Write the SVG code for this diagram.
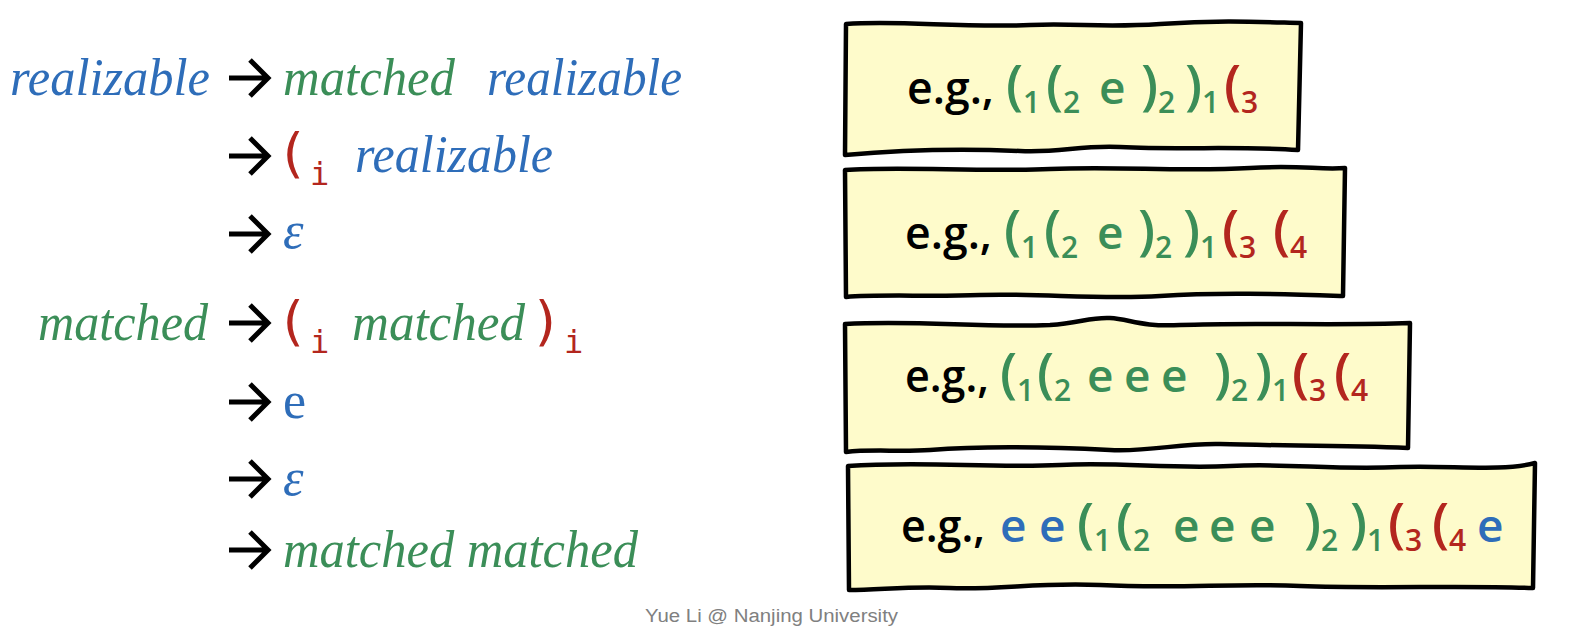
<svg xmlns="http://www.w3.org/2000/svg" xmlns:xlink="http://www.w3.org/1999/xlink" width="1586" height="644" viewBox="0 0 1586 644">
<style>
.ser{font-family:"Liberation Serif","Times New Roman",serif;font-style:italic;font-size:52px}
.up{font-family:"Liberation Serif","Times New Roman",serif;font-size:52px}
.mono{font-family:"DejaVu Sans Mono","Liberation Mono",monospace}
.par{font-size:54px}
.sub{font-size:32px}
.blue{fill:#2E6DB9}
.green{fill:#3B8E58}
.red{fill:#B3261E}
.blk{fill:#000}
.box{fill:#FEFBCB;stroke:#000;stroke-width:4.5;stroke-linejoin:round}
.bt{font-family:"Open Sans","Noto Sans",sans-serif;font-weight:600;font-size:46px}
.bp{font-size:54px}
.bs{font-size:30px}
.foot{font-family:"Liberation Sans",Arial,sans-serif;font-size:18px;fill:#808080}
.arrow{fill:none;stroke:#000;stroke-width:5}
</style>
<defs>
<path id="arr" class="arrow" d="M0,0 H38 M21,-18 L39,0 L21,18"/>
</defs>

<g id="grammar">
  <g id="row1">
    <text class="ser blue" x="10" y="95" textLength="200" lengthAdjust="spacingAndGlyphs">realizable</text>
    <text class="ser green" x="283" y="95" textLength="172" lengthAdjust="spacingAndGlyphs">matched</text>
    <text class="ser blue" x="487" y="95" textLength="195" lengthAdjust="spacingAndGlyphs">realizable</text>
  </g>
  <g id="row2">
    <text class="mono par red" x="276" y="172">(</text>
    <text class="mono sub red" x="310" y="185">i</text>
    <text class="ser blue" x="355" y="172" textLength="198" lengthAdjust="spacingAndGlyphs">realizable</text>
  </g>
  <g id="row3">
    <text class="ser blue" x="283" y="248">ε</text>
  </g>
  <g id="row4">
    <text class="ser green" x="38" y="340" textLength="170" lengthAdjust="spacingAndGlyphs">matched</text>
    <text class="mono par red" x="276" y="340">(</text>
    <text class="mono sub red" x="310" y="353">i</text>
    <text class="ser green" x="352" y="340" textLength="173" lengthAdjust="spacingAndGlyphs">matched</text>
    <text class="mono par red" x="530" y="340">)</text>
    <text class="mono sub red" x="564" y="353">i</text>
  </g>
  <g id="row5">
    <text class="up blue" x="283" y="418">e</text>
  </g>
  <g id="row6">
    <text class="ser blue" x="283" y="495">ε</text>
  </g>
  <g id="row7">
    <text class="ser green" x="283" y="567" textLength="355" lengthAdjust="spacingAndGlyphs">matched matched</text>
  </g>
</g>

<g id="connectors">
  <use xlink:href="#arr" x="229" y="78"/>
  <use xlink:href="#arr" x="229" y="156"/>
  <use xlink:href="#arr" x="229" y="234"/>
  <use xlink:href="#arr" x="229" y="323"/>
  <use xlink:href="#arr" x="229" y="402"/>
  <use xlink:href="#arr" x="229" y="479"/>
  <use xlink:href="#arr" x="229" y="550"/>
</g>

<g id="box1">
  <path class="box" d="M846,24 C900,20 960,28 1030,25 C1080,23 1100,28 1160,24 C1220,20 1260,22 1301,23 L1298,150 C1240,146 1180,150 1120,147 C1080,145 1060,153 1020,151 C950,148 900,150 845,155 Z"/>
  <text class="bt">
    <tspan class="blk" x="907" y="104" textLength="87" lengthAdjust="spacingAndGlyphs">e.g.,</tspan>
    <tspan class="green bp" x="1006" y="104">(</tspan><tspan class="green bs" x="1023" y="113">1</tspan>
    <tspan class="green bp" x="1046" y="104">(</tspan><tspan class="green bs" x="1063" y="113">2</tspan>
    <tspan class="green" x="1099" y="104">e</tspan>
    <tspan class="green bp" x="1141" y="104">)</tspan><tspan class="green bs" x="1158" y="113">2</tspan>
    <tspan class="green bp" x="1185" y="104">)</tspan><tspan class="green bs" x="1202" y="113">1</tspan>
    <tspan class="red bp" x="1224" y="104">(</tspan><tspan class="red bs" x="1241" y="113">3</tspan>
  </text>
</g>

<g id="box2">
  <path class="box" d="M845,170 C900,166 980,172 1050,169 C1120,166 1180,172 1250,168 C1300,165 1320,170 1345,168 L1343,296 C1280,294 1220,292 1160,296 C1100,300 1040,293 980,295 C930,297 880,294 846,297 Z"/>
  <text class="bt">
    <tspan class="blk" x="905" y="249" textLength="87" lengthAdjust="spacingAndGlyphs">e.g.,</tspan>
    <tspan class="green bp" x="1004" y="249">(</tspan><tspan class="green bs" x="1021" y="258">1</tspan>
    <tspan class="green bp" x="1044" y="249">(</tspan><tspan class="green bs" x="1061" y="258">2</tspan>
    <tspan class="green" x="1097" y="249">e</tspan>
    <tspan class="green bp" x="1138" y="249">)</tspan><tspan class="green bs" x="1155" y="258">2</tspan>
    <tspan class="green bp" x="1183" y="249">)</tspan><tspan class="green bs" x="1200" y="258">1</tspan>
    <tspan class="red bp" x="1222" y="249">(</tspan><tspan class="red bs" x="1239" y="258">3</tspan>
    <tspan class="red bp" x="1273" y="249">(</tspan><tspan class="red bs" x="1290" y="258">4</tspan>
  </text>
</g>

<g id="box3">
  <path class="box" d="M845,324 C920,320 980,328 1050,325 C1080,323 1090,317 1110,318 C1130,319 1140,327 1180,325 C1250,322 1330,326 1410,323 L1408,448 C1340,445 1280,446 1220,444 C1180,443 1150,452 1110,450 C1050,447 980,446 930,450 C900,452 870,449 846,452 Z"/>
  <text class="bt">
    <tspan class="blk" x="905" y="392" textLength="84" lengthAdjust="spacingAndGlyphs">e.g.,</tspan>
    <tspan class="green bp" x="1000" y="392">(</tspan><tspan class="green bs" x="1017" y="401">1</tspan>
    <tspan class="green bp" x="1037" y="392">(</tspan><tspan class="green bs" x="1054" y="401">2</tspan>
    <tspan class="green" x="1087" y="392">e</tspan>
    <tspan class="green" x="1124" y="392">e</tspan>
    <tspan class="green" x="1161" y="392">e</tspan>
    <tspan class="green bp" x="1214" y="392">)</tspan><tspan class="green bs" x="1231" y="401">2</tspan>
    <tspan class="green bp" x="1255" y="392">)</tspan><tspan class="green bs" x="1272" y="401">1</tspan>
    <tspan class="red bp" x="1292" y="392">(</tspan><tspan class="red bs" x="1309" y="401">3</tspan>
    <tspan class="red bp" x="1334" y="392">(</tspan><tspan class="red bs" x="1351" y="401">4</tspan>
  </text>
</g>

<g id="box4">
  <path class="box" d="M848,466 C920,461 990,468 1060,465 C1120,462 1170,469 1230,466 C1290,463 1330,470 1400,467 C1450,465 1500,472 1535,463 L1533,588 C1460,585 1380,589 1300,586 C1230,583 1180,589 1100,585 C1040,582 1000,590 950,588 C910,586 880,590 849,590 Z"/>
  <text class="bt">
    <tspan class="blk" x="901" y="542" textLength="84" lengthAdjust="spacingAndGlyphs">e.g.,</tspan>
    <tspan class="blue" x="1000" y="542">e</tspan>
    <tspan class="blue" x="1039" y="542">e</tspan>
    <tspan class="green bp" x="1077" y="542">(</tspan><tspan class="green bs" x="1094" y="551">1</tspan>
    <tspan class="green bp" x="1116" y="542">(</tspan><tspan class="green bs" x="1133" y="551">2</tspan>
    <tspan class="green" x="1173" y="542">e</tspan>
    <tspan class="green" x="1209" y="542">e</tspan>
    <tspan class="green" x="1249" y="542">e</tspan>
    <tspan class="green bp" x="1304" y="542">)</tspan><tspan class="green bs" x="1321" y="551">2</tspan>
    <tspan class="green bp" x="1350" y="542">)</tspan><tspan class="green bs" x="1367" y="551">1</tspan>
    <tspan class="red bp" x="1388" y="542">(</tspan><tspan class="red bs" x="1405" y="551">3</tspan>
    <tspan class="red bp" x="1432" y="542">(</tspan><tspan class="red bs" x="1449" y="551">4</tspan>
    <tspan class="blue" x="1477" y="542">e</tspan>
  </text>
</g>

<g id="footer">
  <text class="foot" x="645" y="622" textLength="253" lengthAdjust="spacingAndGlyphs">Yue Li @ Nanjing University</text>
</g>
</svg>
